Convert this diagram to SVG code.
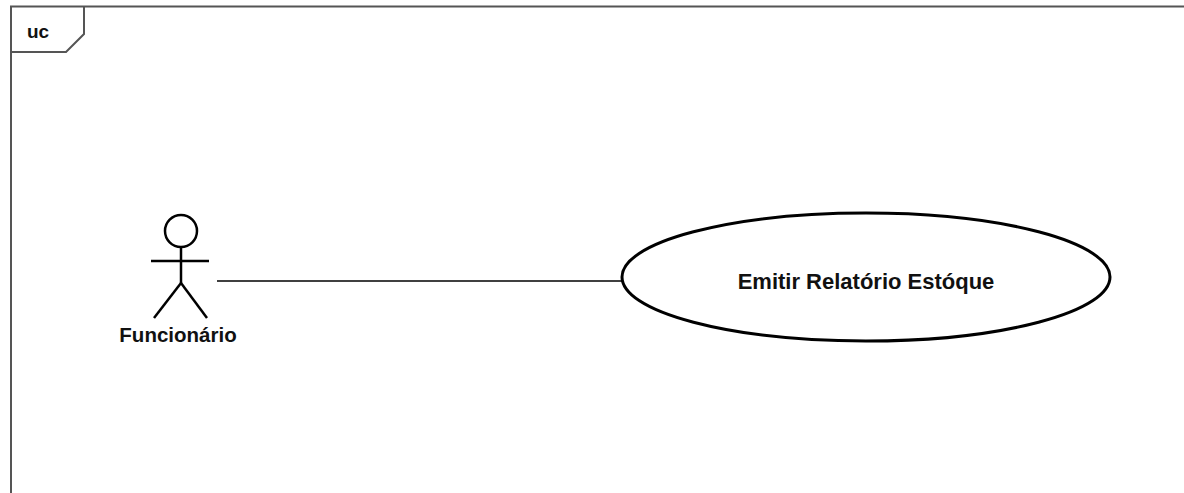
<svg xmlns="http://www.w3.org/2000/svg" width="1184" height="493" viewBox="0 0 1184 493">
<style>
.frame{fill:none;stroke:#555;stroke-width:2}
.actor{fill:none;stroke:#000;stroke-width:2.5}
.uc{fill:#fff;stroke:#000;stroke-width:3}
.conn{fill:none;stroke:#000;stroke-width:1.5}
.lbl{font-family:"Liberation Sans",Arial,sans-serif;font-weight:bold;fill:#111}
</style>
<rect width="1184" height="493" fill="#fff"/>
<g id="frame">
<path class="frame" d="M11,493 V6.5 H1184"/>
<path class="frame" d="M11,52 H66 L84,34 V6.5"/>
<text class="lbl" x="27" y="38" font-size="19">uc</text>
</g>
<g id="connectors">
<line class="conn" x1="217" y1="281" x2="623" y2="281"/>
</g>
<g id="actor-funcionario">
<circle class="actor" cx="181" cy="231" r="16"/>
<line class="actor" x1="181" y1="247" x2="181" y2="283"/>
<line class="actor" x1="151" y1="261" x2="209" y2="261"/>
<line class="actor" x1="181" y1="283" x2="154" y2="318"/>
<line class="actor" x1="181" y1="283" x2="207" y2="318"/>
<text class="lbl" x="178" y="342" font-size="20.5" text-anchor="middle">Funcionário</text>
</g>
<g id="usecase-emitir">
<ellipse class="uc" cx="866" cy="277" rx="244" ry="64"/>
<text class="lbl" x="866" y="289" font-size="22" text-anchor="middle">Emitir Relatório Estóque</text>
</g>
</svg>
